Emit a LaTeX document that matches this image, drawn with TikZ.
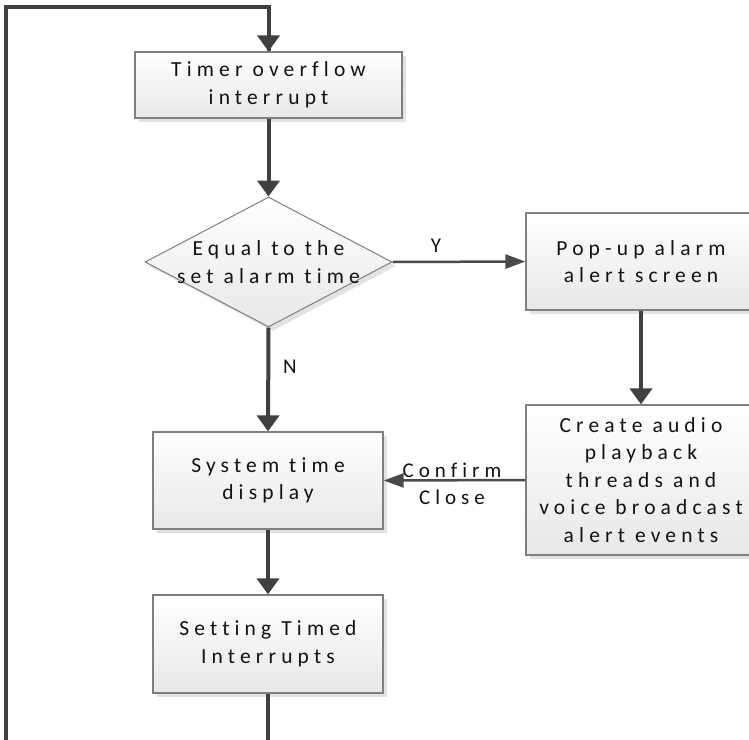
\documentclass[tikz,border=0pt]{standalone}
\usepackage{fontspec}
\setmainfont{Carlito}[LetterSpace=24, Ligatures={NoCommon}]
\usetikzlibrary{arrows.meta,shapes.geometric,shadows}
\definecolor{flowline}{HTML}{404040}
\definecolor{thinline}{HTML}{4A4A4A}
\definecolor{boxedge}{HTML}{7F7F7F}
\definecolor{boxfill}{HTML}{E8E8E8}
\definecolor{shade}{HTML}{E2E2E2}
\definecolor{ink}{HTML}{121212}
\begin{document}
\begin{tikzpicture}[x=1pt,y=-1pt,
  every node/.style={font=\fontsize{21.5}{27.5}\selectfont, text=ink},
  procbox/.style={draw=boxedge, line width=1.3pt, top color=white, bottom color=boxfill,
    minimum width=230pt, minimum height=97pt, align=center, inner sep=0pt,
    drop shadow={shadow xshift=4pt, shadow yshift=-4pt, fill=shade, opacity=1}},
  decision/.style={diamond, aspect=1.9, draw=boxedge, line width=1pt, top color=white,
    bottom color=boxfill, minimum width=247pt, minimum height=130pt, inner sep=0pt,
    drop shadow={shadow xshift=4pt, shadow yshift=-4pt, fill=shade, opacity=1}},
  flow/.style={draw=flowline, line width=4pt, line join=miter,
    -{Triangle[length=16pt,width=22pt]}},
  flowplain/.style={draw=flowline, line width=4pt, line join=miter},
  thinflow/.style={draw=thinline, line width=2.5pt, -{Triangle[length=20pt,width=14pt]}},
  tag/.style={font=\fontsize{21}{27}\selectfont, align=center, inner sep=0pt}
]
\useasboundingbox (0,0) rectangle (749,739);
\clip (0,0) rectangle (749,739);

% process boxes
\node[procbox, minimum width=267pt, minimum height=66pt] (timer) at (268.5,85)
  {Timer overflow\\interrupt};
\node[procbox] (popup) at (641,261.5) {Pop-up alarm\\alert screen};
\node[procbox, minimum height=150pt] (create) at (641,480)
  {Create audio\\playback\\threads and\\voice broadcast\\alert events};
\node[procbox] (systime) at (268,480.5) {System time\\display};
\node[procbox, minimum height=98pt] (settime) at (268,644)
  {Setting Timed\\Interrupts};

% decision
\node[decision] (dec) at (268.5,262) {};
\node[align=center, inner sep=0pt] (dectext) at (dec.center) {Equal to the\\set alarm time};

% loop-back corners
\coordinate (loopA) at (268,748);
\coordinate (loopB) at (6,748);
\coordinate (loopC) at (6,7);

% connectors
\draw[flow] (timer.south) -- (dec.north);
\draw[thinflow] (dec.east) -- (popup.west);
\node[tag] (ylab) at (436,246) {Y};
\draw[flow] (popup.south) -- (create.north);
\draw[thinflow] (create.west) -- (systime.east);
\node[tag] (conf) at (452,484) {Confirm\\Close};
\draw[flow] (dec.south) -- (systime.north);
\node[tag] (nlab) at (290,367) {N};
\draw[flow] (systime.south) -- (settime.north);
\draw[flowplain] (settime.south) -- (loopA) -- (loopB) -- (loopC) -| ([xshift=0.5pt]timer.north);
\draw[flow] (268.5,30) -- (timer.north);
\end{tikzpicture}
\end{document}
